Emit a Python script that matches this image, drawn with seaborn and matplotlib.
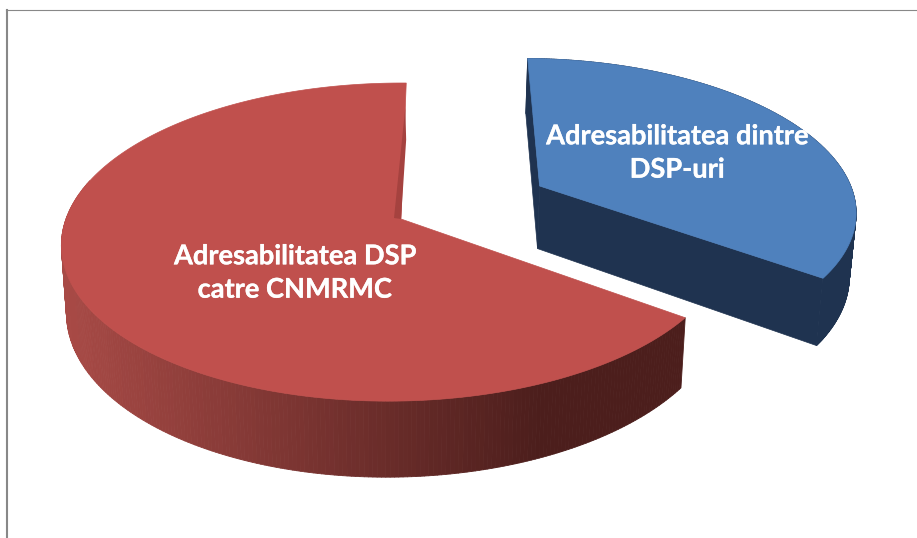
import numpy as np
import matplotlib
matplotlib.use("Agg")
import matplotlib.pyplot as plt
import matplotlib.patheffects as pe
from matplotlib.collections import PolyCollection
from matplotlib.patches import Polygon
import seaborn as sns

# slices, clockwise from 12 o'clock
labels = ["Adresabilitatea dintre\nDSP-uri", "Adresabilitatea DSP\ncatre CNMRMC"]
shares = [35, 65]
explode = [0.485, 0.0]
top_colors = ["#4f81bd", "#c0504d"]
wall_colors = [["#1f3350", "#1f3350"], ["#a84a46", "#4c1e1c"]]
sliver_colors = ["#1f3350", "#a5423f"]
label_pos = [(677, 153), (295, 273)]

# pie plane to pixels
CX, CY = 401, 219
A, B = 330, 155.7
KV, KU = 0.145, 0.015
SHEAR = 6
DEPTH = 65
TAPER = 0.015


def project(u, v, h=0.0):
    u, v = np.asarray(u, float), np.asarray(v, float)
    w = 1 + KV * v + KU * u
    x = (A * u + SHEAR * v) / w
    y = -B * v / w
    return np.column_stack([CX + x * (1 - TAPER * h), CY + y + DEPTH * h / w])


sns.set_theme(style="white")
plt.rcParams["font.family"] = ["Lato", "DejaVu Sans"]

W, H = 917, 538
fig = plt.figure(figsize=(W / 100, H / 100), dpi=100, facecolor="white")
ax = fig.add_axes([6.5 / W, 0, 1 - 6.5 / W, 1 - 9.5 / H])
ax.set_xlim(6.5, W)
ax.set_ylim(H, 9.5)
ax.set_xticks([])
ax.set_yticks([])
sns.despine(ax=ax, top=False, right=True, bottom=True)
ax.spines["left"].set(color="#888888", linewidth=1.5)
ax.spines["top"].set(color="#888888", linewidth=0.8)

angles = np.cumsum([0] + shares) / sum(shares) * 360
for i, share in enumerate(shares):
    start, stop = 90 - angles[i], 90 - angles[i + 1]
    mid = np.radians((start + stop) / 2)
    ou, ov = explode[i] * np.cos(mid), explode[i] * np.sin(mid)
    theta = np.radians(np.linspace(start, stop, 361))
    u, v = ou + np.cos(theta), ov + np.sin(theta)

    # outer wall, shaded along x
    rim_top = project(u, v)
    rim_low = project(u, v, 1)
    x0, x1 = 60, 540
    ramp = sns.blend_palette(wall_colors[i], 64)
    quads, cols = [], []
    for j in range(len(theta) - 1):
        if np.sin(theta[j]) > 0.25 and i == 1:
            continue
        quads.append([rim_top[j], rim_top[j + 1], rim_low[j + 1], rim_low[j]])
        t = (rim_top[j, 0] - x0) / (x1 - x0)
        cols.append(ramp[int(np.clip(t, 0, 1) * 63)])
    ax.add_collection(PolyCollection(quads, facecolors=cols, edgecolors=cols, linewidths=0.6))

    apex = project([ou], [ov])
    apex_low = project([ou], [ov], 1)
    if i == 0:
        # cut faces of the exploded slice
        ax.add_patch(Polygon(np.vstack([apex, rim_top[-1:], rim_low[-1:], apex_low]),
                             fc=wall_colors[i][0], ec=wall_colors[i][0], lw=0.5))
        ax.add_patch(Polygon(np.vstack([apex, rim_top[:1], rim_low[:1], apex_low]),
                             fc=sliver_colors[i], ec=sliver_colors[i], lw=0.5))

    ax.add_patch(Polygon(np.vstack([apex, rim_top]), fc=top_colors[i], ec=top_colors[i], lw=0.5))

    if i == 1:
        # thin shaded edge where the big slice closes
        near = project(ou + 0.8 * np.cos(theta[-1]), ov + 0.8 * np.sin(theta[-1]))
        ax.add_patch(Polygon(np.vstack([near, rim_low[-1:], apex, apex + [-7, -1]]),
                             fc=sliver_colors[i], ec="none"))

for text, (x, y) in zip(labels, label_pos):
    t = ax.text(x, y, text, color="white", fontsize=19.6, fontweight="bold",
                ha="center", va="center", linespacing=1.47, zorder=5)
    t.set_path_effects([pe.withStroke(linewidth=0.2, foreground="white")])

fig.savefig("out.png", dpi=100)
